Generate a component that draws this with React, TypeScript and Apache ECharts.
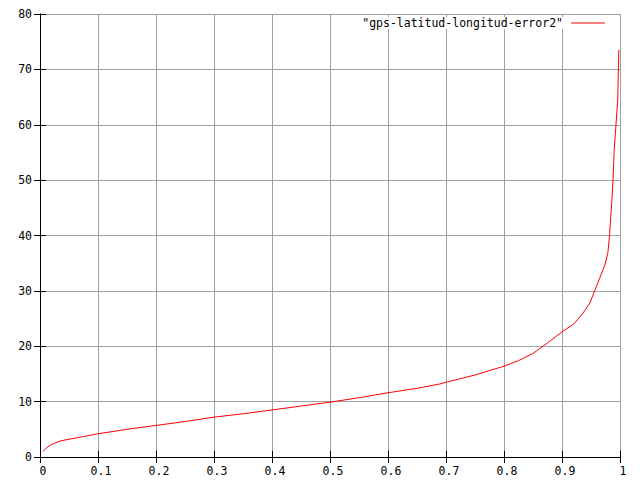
import React, { useEffect, useRef } from "react";
import * as echarts from "echarts";

const seriesName = '"gps-latitud-longitud-error2"';
const xValues = [
  0.005, 0.01, 0.017, 0.025, 0.035, 0.05, 0.075, 0.1, 0.15, 0.2, 0.25, 0.3, 0.35, 0.4, 0.45, 0.5,
  0.55, 0.6, 0.65, 0.69, 0.7, 0.75, 0.8, 0.825, 0.85, 0.875, 0.9, 0.92, 0.935, 0.948, 0.956, 0.965,
  0.974, 0.979, 0.982, 0.984, 0.986, 0.988, 0.99, 0.992, 0.994, 0.996, 0.998,
];
const yValues = [
  1.0, 1.5, 2.1, 2.5, 2.9, 3.2, 3.7, 4.2, 5.0, 5.7, 6.4, 7.2, 7.8, 8.5, 9.2, 9.9,
  10.7, 11.6, 12.4, 13.2, 13.5, 14.8, 16.4, 17.4, 18.7, 20.6, 22.6, 24.0, 25.8, 27.8, 29.9, 32.3,
  34.7, 36.8, 40.1, 43.4, 46.4, 50.0, 55.4, 58.4, 61.4, 64.4, 73.5,
];

const FONT = "DejaVu Sans Mono";
const FS = 11.5;

export default function App() {
  const ref = useRef<HTMLDivElement>(null);
  useEffect(() => {
    document.body.style.margin = "0";
    const chart = echarts.init(ref.current!, null, { renderer: "svg" });
    const data = xValues.map((x, i) => [x, yValues[i]]);
    const axisLine = { show: true, lineStyle: { color: "#000", width: 1 } };
    const axisTick = { show: true, inside: true, length: 6, lineStyle: { color: "#000", width: 1 } };
    const splitLine = { show: true, lineStyle: { color: "#a0a0a0", width: 1 } };
    const axisLabel = { color: "#000", fontFamily: FONT, fontSize: FS };
    chart.setOption({
      animation: false,
      backgroundColor: "#fff",
      grid: { left: 40, right: 20, top: 14, bottom: 23, containLabel: false },
      legend: {
        right: 32,
        top: 17,
        align: "right",
        icon: "rect",
        itemWidth: 34,
        itemHeight: 1,
        padding: [0, 3, 0, 3],
        backgroundColor: "#fff",
        textStyle: { color: "#000", fontFamily: FONT, fontSize: FS, padding: [0, 3, 0, 0] },
        data: [{ name: seriesName, itemStyle: { color: "#ff0000" } }],
      },
      xAxis: [
        {
          type: "value", min: 0, max: 1, interval: 0.1, position: "bottom",
          axisLine, axisTick, splitLine,
          axisLabel: { ...axisLabel, margin: 8, padding: [0, 0, 0, 6] },
        },
        {
          type: "value", min: 0, max: 1, interval: 0.1, position: "top",
          axisLine, axisTick, splitLine: { show: false }, axisLabel: { show: false },
        },
      ],
      yAxis: [
        {
          type: "value", min: 0, max: 80, interval: 10, position: "left",
          axisLine, axisTick, splitLine, axisLabel: { ...axisLabel, margin: 8 },
        },
        {
          type: "value", min: 0, max: 80, interval: 10, position: "right",
          axisLine, axisTick, splitLine: { show: false }, axisLabel: { show: false },
        },
      ],
      series: [
        {
          name: seriesName,
          type: "line",
          data,
          showSymbol: false,
          symbol: "none",
          lineStyle: { color: "#ff0000", width: 1 },
          itemStyle: { color: "#ff0000" },
        },
      ],
    });
    return () => chart.dispose();
  }, []);
  return <div ref={ref} style={{ width: 640, height: 480 }} />;
}
